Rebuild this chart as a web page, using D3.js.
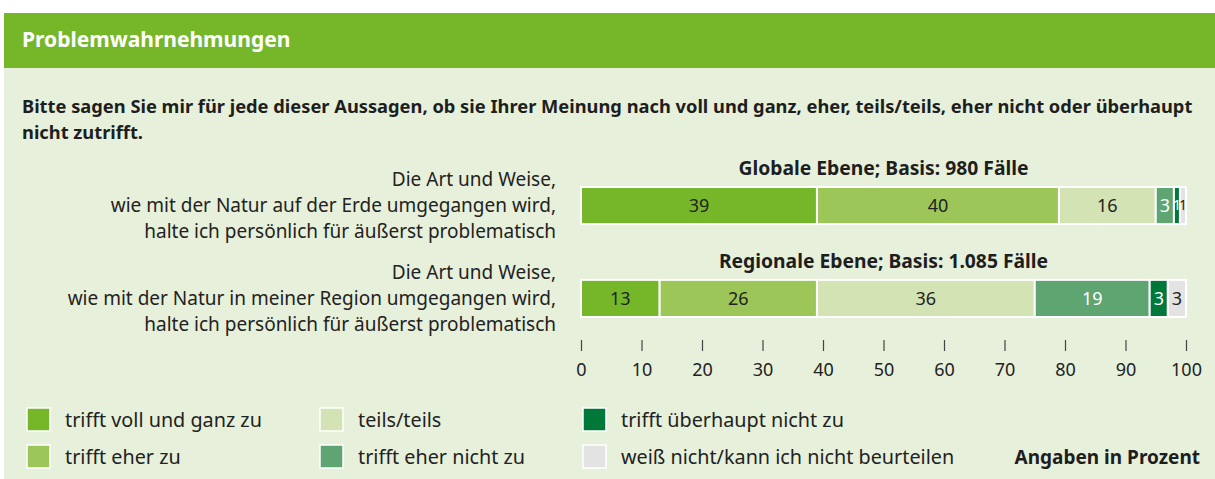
<!DOCTYPE html>
<html>
<head>
<meta charset="utf-8">
<script src="https://cdn.jsdelivr.net/npm/d3@7"></script>
<style>
  body { margin: 0; background: #ffffff; }
  text { font-family: "Noto Sans", Lato, sans-serif; }
</style>
</head>
<body>
<div id="chart"></div>
<script>
const frame_width = 1215;
const frame_height = 479;

// data
const categories = ["trifft voll und ganz zu", "trifft eher zu", "teils/teils",
    "trifft eher nicht zu", "trifft überhaupt nicht zu", "weiß nicht/kann ich nicht beurteilen"];
const colors = ["#76b72a", "#9cc658", "#d3e3b4", "#5fa572", "#00783a", "#e3e3e3"];
const textColors = ["#222", "#222", "#222", "#fff", "#fff", "#222"];

const rows = ["Globale Ebene; Basis: 980 Fälle", "Regionale Ebene; Basis: 1.085 Fälle"];
const globalValues = [39, 40, 16, 3, 1, 1];
const regionalValues = [13, 26, 36, 19, 3, 3];
const rowLabels = [
    ["Die Art und Weise,", "wie mit der Natur auf der Erde umgegangen wird,", "halte ich persönlich für äußerst problematisch"],
    ["Die Art und Weise,", "wie mit der Natur in meiner Region umgegangen wird,", "halte ich persönlich für äußerst problematisch"]
];
const tickValues = [0, 10, 20, 30, 40, 50, 60, 70, 80, 90, 100];

const title = "Problemwahrnehmungen";
const question = ["Bitte sagen Sie mir für jede dieser Aussagen, ob sie Ihrer Meinung nach voll und ganz, eher, teils/teils, eher nicht oder überhaupt",
    "nicht zutrifft."];

const svg = d3.select("#chart")
    .append("svg")
        .attr("width", frame_width)
        .attr("height", frame_height);

// panel background + header
svg.append("rect")
    .attr("x", 4).attr("y", 68)
    .attr("width", frame_width - 4).attr("height", 411)
    .attr("fill", "#e7f0da");
svg.append("rect")
    .attr("x", 4).attr("y", 13)
    .attr("width", frame_width - 4).attr("height", 55)
    .attr("fill", "#76b72a");
svg.append("text")
    .attr("x", 22).attr("y", 47)
    .attr("fill", "#fff")
    .attr("font-size", "21px")
    .attr("font-weight", "bold")
    .text(title);

// question
svg.selectAll(".question")
    .data(question)
    .enter()
    .append("text")
        .attr("class", "question")
        .attr("x", 22)
        .attr("y", (d, i) => 113 + i * 26)
        .attr("font-size", "18.3px")
        .attr("font-weight", "bold")
        .attr("fill", "#1e1e1e")
        .text(d => d);

// scales
const X_SCALE = d3.scaleLinear().domain([0, 100]).range([581, 1186]);
const Y_SCALE = d3.scaleBand().domain(rows).range([187, 317]).paddingInner(0.6);

const allValues = [globalValues, regionalValues];

rows.forEach((row, r) => {
    const y = Y_SCALE(row);
    const h = Y_SCALE.bandwidth();
    const stacked = [];
    let acc = 0;
    allValues[r].forEach((v, i) => {
        stacked.push({ v: v, i: i, x0: acc, x1: acc + v });
        acc += v;
    });

    // bar title
    svg.append("text")
        .attr("x", (X_SCALE(0) + X_SCALE(100)) / 2)
        .attr("y", y - 12)
        .attr("text-anchor", "middle")
        .attr("font-size", "19.3px")
        .attr("font-weight", "bold")
        .attr("fill", "#1e1e1e")
        .text(row);

    const g = svg.append("g");
    g.selectAll("rect")
        .data(stacked)
        .enter()
        .append("rect")
            .attr("x", d => X_SCALE(d.x0))
            .attr("y", y)
            .attr("width", d => X_SCALE(d.x1) - X_SCALE(d.x0))
            .attr("height", h)
            .attr("fill", d => colors[d.i])
            .attr("stroke", "#fff")
            .attr("stroke-width", 2);

    g.selectAll("text")
        .data(stacked)
        .enter()
        .append("text")
            .attr("x", d => (X_SCALE(d.x0) + X_SCALE(d.x1)) / 2)
            .attr("y", y + h / 2)
            .attr("dy", "0.35em")
            .attr("text-anchor", "middle")
            .attr("font-size", d => (X_SCALE(d.x1) - X_SCALE(d.x0)) < 12 ? "14px" : "18px")
            .attr("fill", d => textColors[d.i])
            .text(d => d.v);

    // left labels
    svg.selectAll(".lbl" + r)
        .data(rowLabels[r])
        .enter()
        .append("text")
            .attr("class", "lbl" + r)
            .attr("x", 556)
            .attr("y", (d, i) => y - 1 + i * 26)
            .attr("text-anchor", "end")
            .attr("font-size", "19px")
            .attr("fill", "#222")
            .text(d => d);
});

// axis
const xAxis = svg.append("g")
    .attr("transform", "translate(0,340)")
    .call(d3.axisBottom(X_SCALE).tickValues(tickValues).tickSize(11).tickPadding(12))
    .attr("font-size", "18px")
    .attr("font-family", "'Noto Sans', Lato, sans-serif");
xAxis.select(".domain").remove();
xAxis.selectAll("line").attr("stroke", "#444").attr("stroke-width", 1.2);
xAxis.selectAll("text").attr("fill", "#222");

// legend
const legendX = [27, 320, 583];
const legendY = [408, 445];
const legend = svg.selectAll(".legend")
    .data(categories)
    .enter()
    .append("g")
        .attr("class", "legend")
        .attr("transform", (d, i) => "translate(" + legendX[Math.floor(i / 2)] + "," + legendY[i % 2] + ")");
legend.append("rect")
    .attr("width", 23).attr("height", 23)
    .attr("fill", (d, i) => colors[i])
    .attr("stroke", "#fff")
    .attr("stroke-width", 1.5);
legend.append("text")
    .attr("x", 38)
    .attr("y", 12)
    .attr("dy", "0.35em")
    .attr("font-size", "19.8px")
    .attr("fill", "#222")
    .text(d => d);

svg.append("text")
    .attr("x", 1200).attr("y", 457)
    .attr("dy", "0.35em")
    .attr("text-anchor", "end")
    .attr("font-size", "19px")
    .attr("font-weight", "bold")
    .attr("fill", "#1e1e1e")
    .text("Angaben in Prozent");
</script>
</body>
</html>
